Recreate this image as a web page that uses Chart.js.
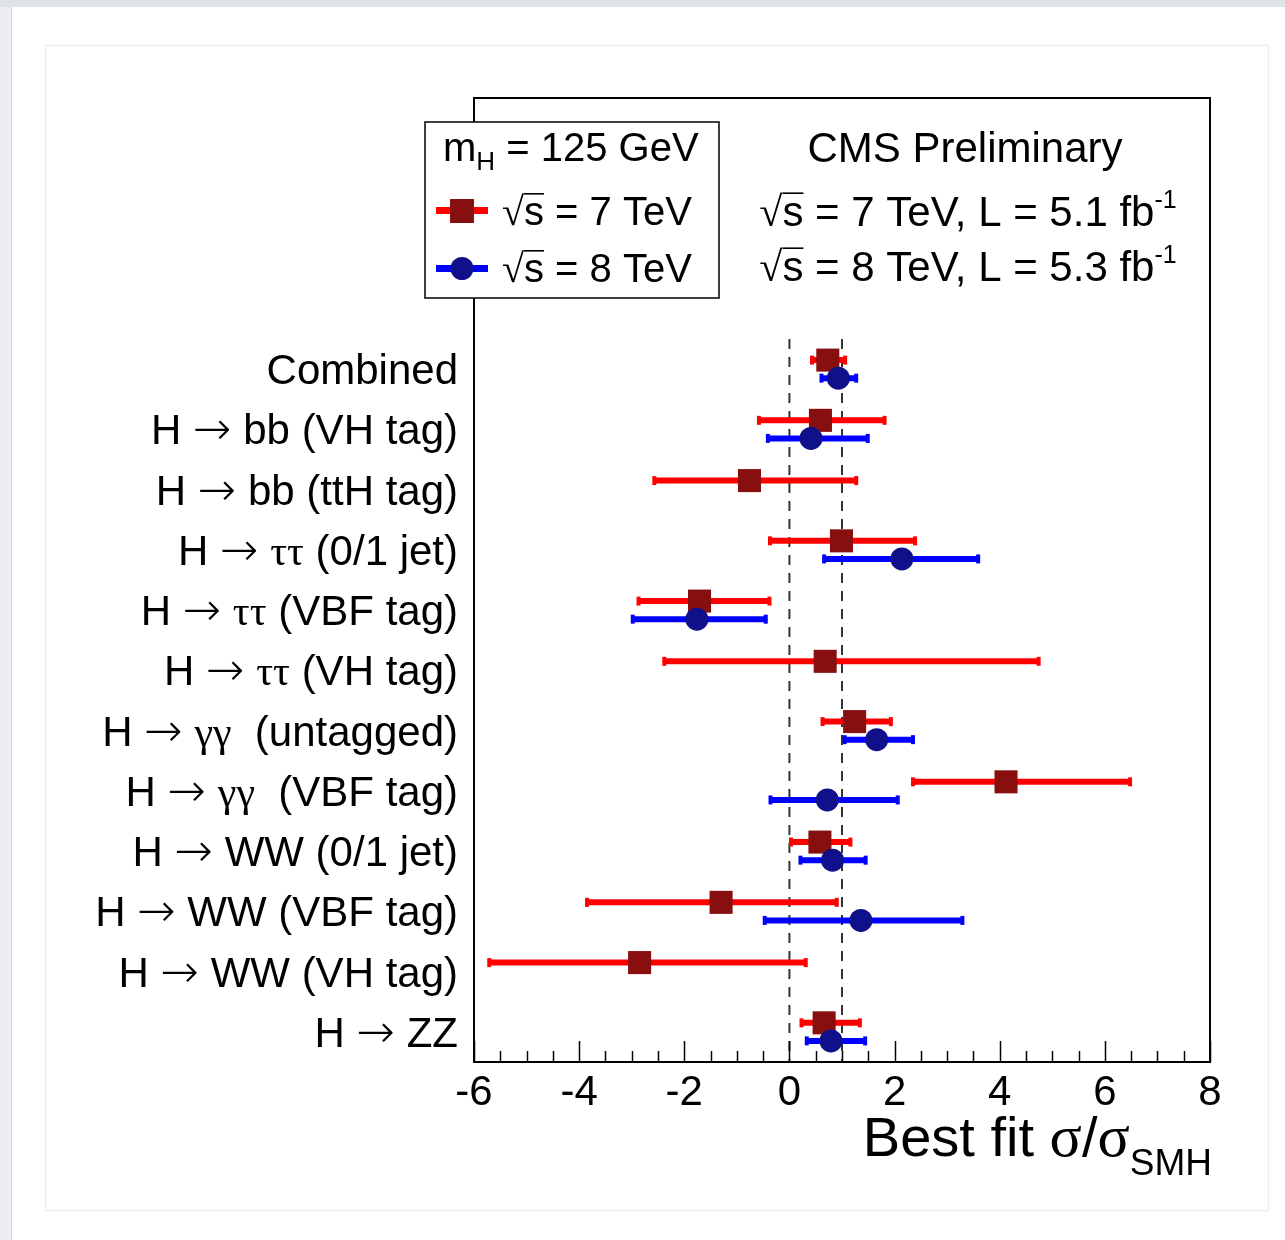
<!DOCTYPE html>
<html lang="en">
<head>
    <meta charset="UTF-8">
    <title>Best fit sigma/sigma_SM per channel</title>
    <script src="https://cdn.jsdelivr.net/npm/chart.js"></script>
    <style>
        body { margin: 0; background: #fff; width: 1285px; height: 1240px; overflow: hidden; }
        .topbar { position: absolute; left: 0; top: 0; width: 1285px; height: 7px; background: #dfe2e7; }
        .leftedge { position: absolute; left: 0; top: 7px; width: 11px; height: 1233px; background: #eceef1; border-right: 1px solid #cfd2d6; }
        .panel { position: absolute; left: 45px; top: 45px; width: 1222px; height: 1164px; border: 1px solid #ececec; box-shadow: 0 0 2px rgba(0,0,0,0.06); }
        #chart { position: absolute; left: 0; top: 0; }
    </style>
</head>
<body>
    <div class="topbar"></div>
    <div class="leftedge"></div>
    <div class="panel"></div>
    <canvas id="chart" width="1285" height="1240"></canvas>

    <script>
        // channels, top to bottom
        const categories = [
            'Combined',
            'H → bb (VH tag)',
            'H → bb (ttH tag)',
            'H → ττ (0/1 jet)',
            'H → ττ (VBF tag)',
            'H → ττ (VH tag)',
            'H → γγ  (untagged)',
            'H → γγ  (VBF tag)',
            'H → WW (0/1 jet)',
            'H → WW (VBF tag)',
            'H → WW (VH tag)',
            'H → ZZ'
        ];

        // sqrt(s) = 7 TeV
        const fit7 = [0.73, 0.59, -0.76, 0.99, -1.71, 0.68, 1.24, 4.12, 0.58, -1.30, -2.85, 0.66];
        const lo7  = [0.43, -0.58, -2.57, -0.37, -2.87, -2.38, 0.63, 2.35, 0.03, -3.85, -5.71, 0.23];
        const hi7  = [1.06, 1.81, 1.27, 2.39, -0.38, 4.74, 1.93, 6.48, 1.16, 0.90, 0.31, 1.34];

        // sqrt(s) = 8 TeV
        const fit8 = [0.93, 0.41, null, 2.14, -1.76, null, 1.66, 0.72, 0.82, 1.36, null, 0.79];
        const lo8  = [0.61, -0.41, null, 0.66, -2.98, null, 1.05, -0.36, 0.21, -0.47, null, 0.33];
        const hi8  = [1.27, 1.49, null, 3.59, -0.45, null, 2.35, 2.06, 1.45, 3.29, null, 1.44];

        const refLines = [0, 1];
        const xTicks = [-6, -4, -2, 0, 2, 4, 6, 8];

        const SANS = '"Liberation Sans", Arial, sans-serif';
        const SERIF = '"Liberation Serif", "DejaVu Serif", serif';
        const ARROW = '"DejaVu Sans", sans-serif';

        // rows sit below 4 empty slots reserved for the legend
        const TOP_SLOTS = 4;
        const rowY = i => TOP_SLOTS + 0.5 + i;
        const OFF = 0.15;

        const datasets = [];

        refLines.forEach(v => {
            datasets.push({
                type: 'line',
                data: [{ x: v, y: TOP_SLOTS }, { x: v, y: TOP_SLOTS + categories.length }],
                borderColor: '#333',
                borderWidth: 2,
                borderDash: [10, 8],
                pointRadius: 0,
                order: 10
            });
        });

        function addSeries(fit, lo, hi, dy, barColor, markColor, style, radius, ord) {
            fit.forEach((v, i) => {
                if (v === null) return;
                datasets.push({
                    type: 'line',
                    data: [{ x: lo[i], y: rowY(i) + dy }, { x: hi[i], y: rowY(i) + dy }],
                    borderColor: barColor,
                    borderWidth: 6,
                    pointStyle: 'line',
                    pointRotation: 90,
                    pointRadius: 4.5,
                    pointBorderWidth: 4,
                    pointBorderColor: barColor,
                    order: ord + 1
                });
            });
            datasets.push({
                type: 'scatter',
                data: fit.map((v, i) => v === null ? null : { x: v, y: rowY(i) + dy }).filter(p => p),
                pointStyle: style,
                pointRadius: radius,
                backgroundColor: markColor,
                borderWidth: 0,
                pointBorderWidth: 0,
                order: ord
            });
        }
        addSeries(fit8, lo8, hi8, OFF, '#0000ff', '#10108a', 'circle', 11.5, 1);
        addSeries(fit7, lo7, hi7, -OFF, '#ff0000', '#870f0f', 'rect', 16.3, 3);

        // split a label into sans runs, serif greek runs and arrows
        function richParts(str, size) {
            const parts = [];
            for (const ch of str) {
                let font = size + 'px ' + SANS;
                if (/[τγσ]/.test(ch)) font = size + 'px ' + SERIF;
                if (ch === '→') font = '200 ' + Math.round(size * 1.1) + 'px ' + ARROW;
                const last = parts[parts.length - 1];
                if (last && last.font === font) last.t += ch;
                else parts.push({ t: ch, font: font });
            }
            return parts;
        }

        function drawRich(ctx, parts, x, y, align) {
            let w = 0;
            parts.forEach(p => {
                ctx.font = p.font;
                p.w = ctx.measureText(p.t).width;
                w += p.w;
            });
            let cx = align === 'right' ? x - w : align === 'center' ? x - w / 2 : x;
            parts.forEach(p => {
                ctx.font = p.font;
                ctx.fillText(p.t, cx, y + (p.dy || 0));
                if (p.over) ctx.fillRect(cx, y - p.over, p.w, 1.6);
                cx += p.w;
            });
        }

        const sqrtS = (size, rest, sup) => {
            const parts = [
                { t: '√', font: size + 'px ' + SERIF },
                { t: 's', font: size + 'px ' + SANS, over: size * 0.8 },
                { t: rest, font: size + 'px ' + SANS }
            ];
            if (sup) parts.push({ t: sup, font: Math.round(size * 0.6) + 'px ' + SANS, dy: -size * 0.42 });
            return parts;
        };

        const decor = {
            id: 'decor',
            afterDraw(chart) {
                const ctx = chart.ctx;
                const a = chart.chartArea;
                const xs = chart.scales.x;
                const ys = chart.scales.y;
                ctx.save();
                ctx.fillStyle = '#000';
                ctx.strokeStyle = '#000';

                // inward ticks on the bottom axis
                ctx.lineWidth = 1.5;
                for (let v = -6; v <= 8; v += 0.5) {
                    const px = Math.round(xs.getPixelForValue(v)) + 0.5;
                    const len = v % 2 === 0 ? 21 : 11;
                    ctx.beginPath();
                    ctx.moveTo(px, a.bottom);
                    ctx.lineTo(px, a.bottom - len);
                    ctx.stroke();
                }

                // frame
                ctx.lineWidth = 2;
                ctx.strokeRect(a.left, a.top, a.right - a.left, a.bottom - a.top);

                // channel labels
                ctx.textBaseline = 'alphabetic';
                categories.forEach((c, i) => {
                    drawRich(ctx, richParts(c, 42), a.left - 16, ys.getPixelForValue(rowY(i)) + 15, 'right');
                });

                // legend box
                ctx.fillStyle = '#fff';
                ctx.fillRect(425, 122, 294, 176);
                ctx.lineWidth = 1.5;
                ctx.strokeRect(425, 122, 294, 176);
                ctx.fillStyle = '#000';
                drawRich(ctx, [
                    { t: 'm', font: '40px ' + SANS },
                    { t: 'H', font: '26px ' + SANS, dy: 9 },
                    { t: ' = 125 GeV', font: '40px ' + SANS }
                ], 443, 161, 'left');

                ctx.fillStyle = '#ff0000';
                ctx.fillRect(436, 207, 52, 7);
                ctx.fillStyle = '#870f0f';
                ctx.fillRect(450, 199, 24, 24);
                ctx.fillStyle = '#0000ff';
                ctx.fillRect(436, 265, 52, 7);
                ctx.fillStyle = '#10108a';
                ctx.beginPath();
                ctx.arc(462, 268.5, 11.5, 0, Math.PI * 2);
                ctx.fill();

                ctx.fillStyle = '#000';
                drawRich(ctx, sqrtS(40, ' = 7 TeV'), 502, 225, 'left');
                drawRich(ctx, sqrtS(40, ' = 8 TeV'), 502, 282, 'left');

                // experiment text
                ctx.font = '42px ' + SANS;
                ctx.textAlign = 'center';
                ctx.fillText('CMS Preliminary', 965, 162);
                ctx.textAlign = 'left';
                drawRich(ctx, sqrtS(42, ' = 7 TeV, L = 5.1 fb', '-1'), 968, 226, 'center');
                drawRich(ctx, sqrtS(42, ' = 8 TeV, L = 5.3 fb', '-1'), 968, 281, 'center');

                // axis title
                drawRich(ctx, [
                    { t: 'Best fit ', font: '56px ' + SANS },
                    { t: 'σ', font: '60px ' + SERIF },
                    { t: '/', font: '56px ' + SANS },
                    { t: 'σ', font: '60px ' + SERIF },
                    { t: 'SMH', font: '37px ' + SANS, dy: 19 }
                ], a.right + 2, 1156, 'right');

                ctx.restore();
            }
        };

        new Chart(document.getElementById('chart'), {
            type: 'scatter',
            data: { datasets: datasets },
            options: {
                responsive: false,
                animation: false,
                layout: { padding: { left: 474, top: 98, right: 75, bottom: 0 } },
                plugins: { legend: { display: false }, tooltip: { enabled: false } },
                scales: {
                    x: {
                        type: 'linear',
                        min: -6,
                        max: 8,
                        afterBuildTicks: s => { s.ticks = xTicks.map(v => ({ value: v })); },
                        afterFit: s => { s.height = 178; },
                        ticks: {
                            color: '#000',
                            padding: 6,
                            font: { family: SANS, size: 42 }
                        },
                        grid: { display: false, drawTicks: false },
                        border: { display: false }
                    },
                    y: {
                        type: 'linear',
                        display: false,
                        reverse: true,
                        min: 0,
                        max: TOP_SLOTS + categories.length
                    }
                }
            },
            plugins: [decor]
        });
    </script>
</body>
</html>
